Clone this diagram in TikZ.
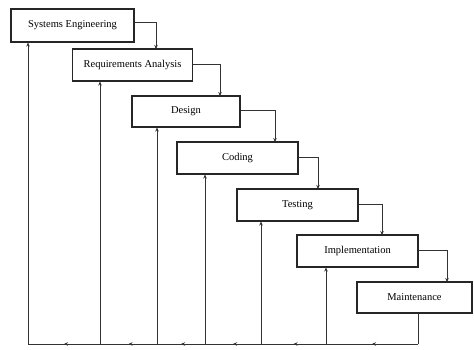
\documentclass[tikz,border=0pt]{standalone}
\usepackage{fontspec}
\setmainfont{Liberation Serif}
\usetikzlibrary{arrows.meta,decorations.markings}
\begin{document}
\begin{tikzpicture}[x=1pt,y=-1pt,
  phase/.style={draw=black!85,line width=1.3pt,fill=white,inner sep=0pt,font=\fontsize{10.5}{11}\selectfont},
  flow/.style={draw=black!80,line width=0.9pt,-{Stealth[length=4pt,width=3.5pt]}},
  link/.style={draw=black!80,line width=0.9pt},
  back/.style={draw=black!80,line width=0.9pt,postaction={decorate},
    decoration={markings,mark=at position 0.5 with {\arrow{Stealth[length=4pt,width=3.5pt]}}}}]
\useasboundingbox (0,0) rectangle (474,349);
\node[phase,minimum width=123pt,minimum height=33pt] (se) at (72.5,25.5) {Systems Engineering};
\node[phase,minimum width=120pt,minimum height=32pt] (ra) at (132.5,65) {Requirements Analysis};
\node[phase,minimum width=108pt,minimum height=31pt] (de) at (186,111.5) {Design};
\node[phase,minimum width=121pt,minimum height=32pt] (co) at (237.5,158) {Coding};
\node[phase,minimum width=121pt,minimum height=32pt] (te) at (297.5,205) {Testing};
\node[phase,minimum width=121pt,minimum height=32pt] (im) at (357.5,251) {Implementation};
\node[phase,minimum width=115pt,minimum height=31pt] (ma) at (414.5,297.5) {Maintenance};
% forward flow
\draw[flow] ([yshift=3pt]se.east) -| (156,49);
\draw[flow] ([yshift=1pt]ra.east) -| (220,96);
\draw[flow] ([yshift=1pt]de.east) -| (275,142);
\draw[flow] ([yshift=1pt]co.east) -| (318,189);
\draw[flow] ([yshift=1pt]te.east) -| (382,235);
\draw[flow] ([yshift=1pt]im.east) -| (447,282);
% bottom return line
\coordinate (b7) at (418,344);
\coordinate (b6) at (326,344);
\coordinate (b5) at (261,344);
\coordinate (b4) at (205,344);
\coordinate (b3) at (157,344);
\coordinate (b2) at (100,344);
\coordinate (b1) at (28,344);
\draw[link] (418,313.5) -- (b7);
\draw[back] (b7) -- (b6);
\draw[back] (b6) -- (b5);
\draw[back] (b5) -- (b4);
\draw[back] (b4) -- (b3);
\draw[back] (b3) -- (b2);
\draw[back] (b2) -- (b1);
\draw[flow] (b1) -- (28,42.5);
\draw[flow] (b2) -- (100,81.5);
\draw[flow] (b3) -- (157,127.5);
\draw[flow] (b4) -- (205,174.5);
\draw[flow] (b5) -- (261,221.5);
\draw[flow] (b6) -- (326,267.5);
\end{tikzpicture}
\end{document}
